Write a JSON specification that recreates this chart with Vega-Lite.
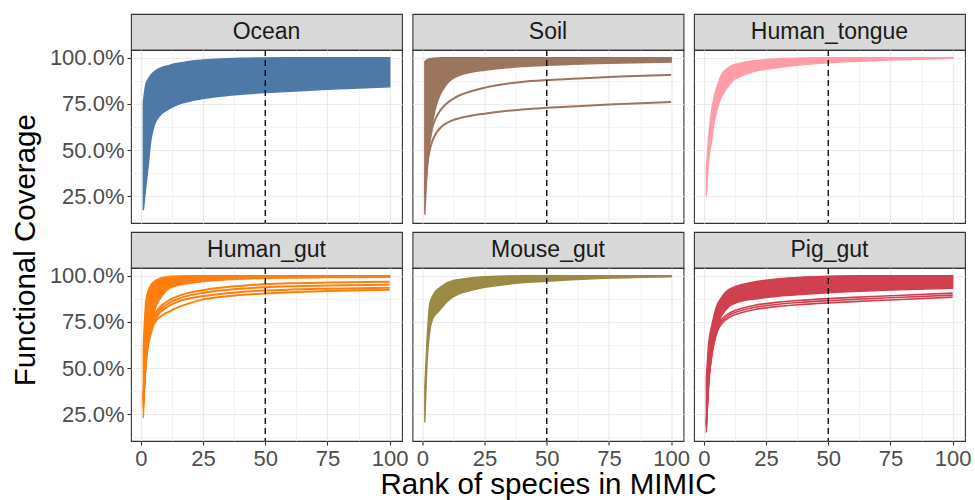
{
"$schema": "https://vega.github.io/schema/vega-lite/v6.json",
"background": "white",
"padding": {"left": 11, "top": 13, "right": 2, "bottom": 2},
"title": {"text": "Functional Coverage", "orient": "left", "anchor": "middle", "fontSize": 29.5, "font": "Liberation Sans", "fontWeight": "normal", "color": "#000000", "offset": 7, "dx": 6},
"config": {
  "font": "Liberation Sans",
  "view": {"stroke": "#333333", "strokeWidth": 1.1},
  "axis": {"domain": false, "gridColor": "#EBEBEB", "tickColor": "#333333", "tickSize": 4, "tickWidth": 1.1, "labelFont": "Liberation Sans", "labelFontSize": 22, "labelColor": "#4D4D4D", "labelPadding": 3, "titleFont": "Liberation Sans", "titleFontSize": 29.5, "titleFontWeight": "normal", "titleColor": "#000000"}
},
"datasets": {
  "bands": [
    {"env":"Ocean","x":1,"lo":0.174,"hi":0.76},{"env":"Ocean","x":2,"lo":0.30,"hi":0.855},{"env":"Ocean","x":3,"lo":0.42,"hi":0.885},{"env":"Ocean","x":4,"lo":0.55,"hi":0.905},{"env":"Ocean","x":5,"lo":0.615,"hi":0.92},{"env":"Ocean","x":6,"lo":0.655,"hi":0.93},{"env":"Ocean","x":7,"lo":0.677,"hi":0.938},{"env":"Ocean","x":8,"lo":0.693,"hi":0.945},{"env":"Ocean","x":10,"lo":0.712,"hi":0.954},{"env":"Ocean","x":12,"lo":0.728,"hi":0.961},{"env":"Ocean","x":15,"lo":0.747,"hi":0.970},{"env":"Ocean","x":20,"lo":0.766,"hi":0.982},{"env":"Ocean","x":25,"lo":0.779,"hi":0.988},{"env":"Ocean","x":30,"lo":0.789,"hi":0.992},{"env":"Ocean","x":40,"lo":0.802,"hi":0.997},{"env":"Ocean","x":50,"lo":0.811,"hi":0.999},{"env":"Ocean","x":60,"lo":0.818,"hi":1},{"env":"Ocean","x":75,"lo":0.829,"hi":1},{"env":"Ocean","x":100,"lo":0.843,"hi":1},
    {"env":"Soil","x":1,"lo":0.15,"hi":0.98},{"env":"Soil","x":2,"lo":0.40,"hi":0.99},{"env":"Soil","x":3,"lo":0.55,"hi":0.995},{"env":"Soil","x":4,"lo":0.64,"hi":0.997},{"env":"Soil","x":5,"lo":0.71,"hi":0.998},{"env":"Soil","x":6,"lo":0.76,"hi":0.999},{"env":"Soil","x":7,"lo":0.795,"hi":1},{"env":"Soil","x":8,"lo":0.82,"hi":1},{"env":"Soil","x":10,"lo":0.86,"hi":1},{"env":"Soil","x":12,"lo":0.885,"hi":1},{"env":"Soil","x":15,"lo":0.905,"hi":1},{"env":"Soil","x":20,"lo":0.922,"hi":1},{"env":"Soil","x":25,"lo":0.932,"hi":1},{"env":"Soil","x":30,"lo":0.94,"hi":1},{"env":"Soil","x":40,"lo":0.952,"hi":1},{"env":"Soil","x":50,"lo":0.959,"hi":1},{"env":"Soil","x":60,"lo":0.964,"hi":1},{"env":"Soil","x":75,"lo":0.97,"hi":1},{"env":"Soil","x":100,"lo":0.977,"hi":1},
    {"env":"Human_tongue","x":1,"lo":0.25,"hi":0.40},{"env":"Human_tongue","x":2,"lo":0.45,"hi":0.58},{"env":"Human_tongue","x":3,"lo":0.54,"hi":0.70},{"env":"Human_tongue","x":4,"lo":0.64,"hi":0.78},{"env":"Human_tongue","x":5,"lo":0.70,"hi":0.83},{"env":"Human_tongue","x":6,"lo":0.75,"hi":0.87},{"env":"Human_tongue","x":7,"lo":0.785,"hi":0.905},{"env":"Human_tongue","x":8,"lo":0.81,"hi":0.925},{"env":"Human_tongue","x":10,"lo":0.85,"hi":0.948},{"env":"Human_tongue","x":12,"lo":0.88,"hi":0.962},{"env":"Human_tongue","x":15,"lo":0.90,"hi":0.972},{"env":"Human_tongue","x":20,"lo":0.925,"hi":0.984},{"env":"Human_tongue","x":25,"lo":0.938,"hi":0.99},{"env":"Human_tongue","x":30,"lo":0.947,"hi":0.995},{"env":"Human_tongue","x":40,"lo":0.963,"hi":0.999},{"env":"Human_tongue","x":50,"lo":0.973,"hi":1},{"env":"Human_tongue","x":60,"lo":0.98,"hi":1},{"env":"Human_tongue","x":75,"lo":0.988,"hi":1},{"env":"Human_tongue","x":100,"lo":0.997,"hi":1},
    {"env":"Human_gut","x":1,"lo":0.23,"hi":0.62},{"env":"Human_gut","x":2,"lo":0.52,"hi":0.86},{"env":"Human_gut","x":3,"lo":0.64,"hi":0.92},{"env":"Human_gut","x":4,"lo":0.72,"hi":0.95},{"env":"Human_gut","x":5,"lo":0.78,"hi":0.965},{"env":"Human_gut","x":6,"lo":0.83,"hi":0.975},{"env":"Human_gut","x":7,"lo":0.86,"hi":0.982},{"env":"Human_gut","x":8,"lo":0.88,"hi":0.988},{"env":"Human_gut","x":10,"lo":0.915,"hi":0.993},{"env":"Human_gut","x":12,"lo":0.935,"hi":0.997},{"env":"Human_gut","x":15,"lo":0.948,"hi":0.999},{"env":"Human_gut","x":20,"lo":0.96,"hi":1},{"env":"Human_gut","x":25,"lo":0.968,"hi":1},{"env":"Human_gut","x":30,"lo":0.974,"hi":1},{"env":"Human_gut","x":40,"lo":0.982,"hi":1},{"env":"Human_gut","x":50,"lo":0.986,"hi":1},{"env":"Human_gut","x":60,"lo":0.988,"hi":1},{"env":"Human_gut","x":75,"lo":0.99,"hi":1},{"env":"Human_gut","x":100,"lo":0.991,"hi":1},
    {"env":"Mouse_gut","x":1,"lo":0.205,"hi":0.40},{"env":"Mouse_gut","x":2,"lo":0.55,"hi":0.68},{"env":"Mouse_gut","x":3,"lo":0.70,"hi":0.85},{"env":"Mouse_gut","x":4,"lo":0.76,"hi":0.886},{"env":"Mouse_gut","x":5,"lo":0.785,"hi":0.91},{"env":"Mouse_gut","x":6,"lo":0.80,"hi":0.925},{"env":"Mouse_gut","x":7,"lo":0.815,"hi":0.935},{"env":"Mouse_gut","x":8,"lo":0.83,"hi":0.945},{"env":"Mouse_gut","x":10,"lo":0.86,"hi":0.963},{"env":"Mouse_gut","x":12,"lo":0.882,"hi":0.972},{"env":"Mouse_gut","x":15,"lo":0.903,"hi":0.98},{"env":"Mouse_gut","x":20,"lo":0.922,"hi":0.99},{"env":"Mouse_gut","x":25,"lo":0.938,"hi":0.995},{"env":"Mouse_gut","x":30,"lo":0.947,"hi":0.998},{"env":"Mouse_gut","x":40,"lo":0.962,"hi":1},{"env":"Mouse_gut","x":50,"lo":0.97,"hi":1},{"env":"Mouse_gut","x":60,"lo":0.978,"hi":1},{"env":"Mouse_gut","x":75,"lo":0.987,"hi":1},{"env":"Mouse_gut","x":100,"lo":0.995,"hi":1},
    {"env":"Pig_gut","x":1,"lo":0.151,"hi":0.45},{"env":"Pig_gut","x":2,"lo":0.42,"hi":0.642},{"env":"Pig_gut","x":3,"lo":0.55,"hi":0.72},{"env":"Pig_gut","x":4,"lo":0.63,"hi":0.78},{"env":"Pig_gut","x":5,"lo":0.69,"hi":0.83},{"env":"Pig_gut","x":6,"lo":0.74,"hi":0.86},{"env":"Pig_gut","x":7,"lo":0.78,"hi":0.88},{"env":"Pig_gut","x":8,"lo":0.80,"hi":0.90},{"env":"Pig_gut","x":10,"lo":0.832,"hi":0.925},{"env":"Pig_gut","x":12,"lo":0.848,"hi":0.938},{"env":"Pig_gut","x":15,"lo":0.862,"hi":0.952},{"env":"Pig_gut","x":20,"lo":0.873,"hi":0.966},{"env":"Pig_gut","x":25,"lo":0.882,"hi":0.976},{"env":"Pig_gut","x":30,"lo":0.889,"hi":0.984},{"env":"Pig_gut","x":40,"lo":0.899,"hi":0.993},{"env":"Pig_gut","x":50,"lo":0.908,"hi":0.998},{"env":"Pig_gut","x":60,"lo":0.914,"hi":1},{"env":"Pig_gut","x":75,"lo":0.922,"hi":1},{"env":"Pig_gut","x":100,"lo":0.932,"hi":1}
  ],
  "lines": [
    {"env":"Soil","id":"A","x":1,"y":0.30},{"env":"Soil","id":"A","x":2,"y":0.45},{"env":"Soil","id":"A","x":3,"y":0.55},{"env":"Soil","id":"A","x":4,"y":0.62},{"env":"Soil","id":"A","x":5,"y":0.66},{"env":"Soil","id":"A","x":6,"y":0.688},{"env":"Soil","id":"A","x":7,"y":0.71},{"env":"Soil","id":"A","x":8,"y":0.728},{"env":"Soil","id":"A","x":10,"y":0.755},{"env":"Soil","id":"A","x":12,"y":0.775},{"env":"Soil","id":"A","x":15,"y":0.797},{"env":"Soil","id":"A","x":20,"y":0.82},{"env":"Soil","id":"A","x":25,"y":0.838},{"env":"Soil","id":"A","x":30,"y":0.851},{"env":"Soil","id":"A","x":40,"y":0.869},{"env":"Soil","id":"A","x":50,"y":0.879},{"env":"Soil","id":"A","x":60,"y":0.886},{"env":"Soil","id":"A","x":75,"y":0.896},{"env":"Soil","id":"A","x":100,"y":0.906},
    {"env":"Soil","id":"B","x":1,"y":0.25},{"env":"Soil","id":"B","x":2,"y":0.42},{"env":"Soil","id":"B","x":3,"y":0.50},{"env":"Soil","id":"B","x":4,"y":0.548},{"env":"Soil","id":"B","x":5,"y":0.578},{"env":"Soil","id":"B","x":6,"y":0.60},{"env":"Soil","id":"B","x":7,"y":0.617},{"env":"Soil","id":"B","x":8,"y":0.63},{"env":"Soil","id":"B","x":10,"y":0.648},{"env":"Soil","id":"B","x":12,"y":0.661},{"env":"Soil","id":"B","x":15,"y":0.673},{"env":"Soil","id":"B","x":20,"y":0.687},{"env":"Soil","id":"B","x":25,"y":0.697},{"env":"Soil","id":"B","x":30,"y":0.706},{"env":"Soil","id":"B","x":40,"y":0.72},{"env":"Soil","id":"B","x":50,"y":0.729},{"env":"Soil","id":"B","x":60,"y":0.736},{"env":"Soil","id":"B","x":75,"y":0.747},{"env":"Soil","id":"B","x":100,"y":0.761},
    {"env":"Human_gut","id":"L1","x":1,"y":0.35},{"env":"Human_gut","id":"L1","x":2,"y":0.55},{"env":"Human_gut","id":"L1","x":3,"y":0.66},{"env":"Human_gut","id":"L1","x":4,"y":0.73},{"env":"Human_gut","id":"L1","x":5,"y":0.775},{"env":"Human_gut","id":"L1","x":6,"y":0.80},{"env":"Human_gut","id":"L1","x":7,"y":0.82},{"env":"Human_gut","id":"L1","x":8,"y":0.835},{"env":"Human_gut","id":"L1","x":10,"y":0.855},{"env":"Human_gut","id":"L1","x":12,"y":0.872},{"env":"Human_gut","id":"L1","x":15,"y":0.89},{"env":"Human_gut","id":"L1","x":20,"y":0.91},{"env":"Human_gut","id":"L1","x":25,"y":0.922},{"env":"Human_gut","id":"L1","x":30,"y":0.932},{"env":"Human_gut","id":"L1","x":40,"y":0.945},{"env":"Human_gut","id":"L1","x":50,"y":0.954},{"env":"Human_gut","id":"L1","x":60,"y":0.959},{"env":"Human_gut","id":"L1","x":75,"y":0.963},{"env":"Human_gut","id":"L1","x":100,"y":0.967},
    {"env":"Human_gut","id":"L2","x":1,"y":0.33},{"env":"Human_gut","id":"L2","x":2,"y":0.54},{"env":"Human_gut","id":"L2","x":3,"y":0.65},{"env":"Human_gut","id":"L2","x":4,"y":0.715},{"env":"Human_gut","id":"L2","x":5,"y":0.76},{"env":"Human_gut","id":"L2","x":6,"y":0.785},{"env":"Human_gut","id":"L2","x":7,"y":0.805},{"env":"Human_gut","id":"L2","x":8,"y":0.82},{"env":"Human_gut","id":"L2","x":10,"y":0.84},{"env":"Human_gut","id":"L2","x":12,"y":0.857},{"env":"Human_gut","id":"L2","x":15,"y":0.875},{"env":"Human_gut","id":"L2","x":20,"y":0.895},{"env":"Human_gut","id":"L2","x":25,"y":0.907},{"env":"Human_gut","id":"L2","x":30,"y":0.917},{"env":"Human_gut","id":"L2","x":40,"y":0.93},{"env":"Human_gut","id":"L2","x":50,"y":0.938},{"env":"Human_gut","id":"L2","x":60,"y":0.943},{"env":"Human_gut","id":"L2","x":75,"y":0.947},{"env":"Human_gut","id":"L2","x":100,"y":0.952},
    {"env":"Human_gut","id":"L3","x":1,"y":0.31},{"env":"Human_gut","id":"L3","x":2,"y":0.53},{"env":"Human_gut","id":"L3","x":3,"y":0.64},{"env":"Human_gut","id":"L3","x":4,"y":0.70},{"env":"Human_gut","id":"L3","x":5,"y":0.745},{"env":"Human_gut","id":"L3","x":6,"y":0.77},{"env":"Human_gut","id":"L3","x":7,"y":0.79},{"env":"Human_gut","id":"L3","x":8,"y":0.805},{"env":"Human_gut","id":"L3","x":10,"y":0.825},{"env":"Human_gut","id":"L3","x":12,"y":0.842},{"env":"Human_gut","id":"L3","x":15,"y":0.86},{"env":"Human_gut","id":"L3","x":20,"y":0.878},{"env":"Human_gut","id":"L3","x":25,"y":0.89},{"env":"Human_gut","id":"L3","x":30,"y":0.899},{"env":"Human_gut","id":"L3","x":40,"y":0.912},{"env":"Human_gut","id":"L3","x":50,"y":0.92},{"env":"Human_gut","id":"L3","x":60,"y":0.925},{"env":"Human_gut","id":"L3","x":75,"y":0.93},{"env":"Human_gut","id":"L3","x":100,"y":0.935},
    {"env":"Human_gut","id":"L4","x":1,"y":0.29},{"env":"Human_gut","id":"L4","x":2,"y":0.52},{"env":"Human_gut","id":"L4","x":3,"y":0.63},{"env":"Human_gut","id":"L4","x":4,"y":0.685},{"env":"Human_gut","id":"L4","x":5,"y":0.73},{"env":"Human_gut","id":"L4","x":6,"y":0.755},{"env":"Human_gut","id":"L4","x":7,"y":0.77},{"env":"Human_gut","id":"L4","x":8,"y":0.78},{"env":"Human_gut","id":"L4","x":10,"y":0.797},{"env":"Human_gut","id":"L4","x":12,"y":0.81},{"env":"Human_gut","id":"L4","x":15,"y":0.83},{"env":"Human_gut","id":"L4","x":20,"y":0.853},{"env":"Human_gut","id":"L4","x":25,"y":0.872},{"env":"Human_gut","id":"L4","x":30,"y":0.882},{"env":"Human_gut","id":"L4","x":40,"y":0.896},{"env":"Human_gut","id":"L4","x":50,"y":0.904},{"env":"Human_gut","id":"L4","x":60,"y":0.91},{"env":"Human_gut","id":"L4","x":75,"y":0.917},{"env":"Human_gut","id":"L4","x":100,"y":0.924},
    {"env":"Pig_gut","id":"O1","x":1,"y":0.20},{"env":"Pig_gut","id":"O1","x":2,"y":0.45},{"env":"Pig_gut","id":"O1","x":3,"y":0.57},{"env":"Pig_gut","id":"O1","x":4,"y":0.65},{"env":"Pig_gut","id":"O1","x":5,"y":0.70},{"env":"Pig_gut","id":"O1","x":6,"y":0.737},{"env":"Pig_gut","id":"O1","x":7,"y":0.76},{"env":"Pig_gut","id":"O1","x":8,"y":0.775},{"env":"Pig_gut","id":"O1","x":10,"y":0.795},{"env":"Pig_gut","id":"O1","x":12,"y":0.809},{"env":"Pig_gut","id":"O1","x":15,"y":0.823},{"env":"Pig_gut","id":"O1","x":20,"y":0.839},{"env":"Pig_gut","id":"O1","x":25,"y":0.849},{"env":"Pig_gut","id":"O1","x":30,"y":0.857},{"env":"Pig_gut","id":"O1","x":40,"y":0.868},{"env":"Pig_gut","id":"O1","x":50,"y":0.876},{"env":"Pig_gut","id":"O1","x":60,"y":0.883},{"env":"Pig_gut","id":"O1","x":75,"y":0.892},{"env":"Pig_gut","id":"O1","x":100,"y":0.906},
    {"env":"Pig_gut","id":"O2","x":1,"y":0.19},{"env":"Pig_gut","id":"O2","x":2,"y":0.44},{"env":"Pig_gut","id":"O2","x":3,"y":0.56},{"env":"Pig_gut","id":"O2","x":4,"y":0.64},{"env":"Pig_gut","id":"O2","x":5,"y":0.69},{"env":"Pig_gut","id":"O2","x":6,"y":0.727},{"env":"Pig_gut","id":"O2","x":7,"y":0.749},{"env":"Pig_gut","id":"O2","x":8,"y":0.764},{"env":"Pig_gut","id":"O2","x":10,"y":0.784},{"env":"Pig_gut","id":"O2","x":12,"y":0.798},{"env":"Pig_gut","id":"O2","x":15,"y":0.812},{"env":"Pig_gut","id":"O2","x":20,"y":0.828},{"env":"Pig_gut","id":"O2","x":25,"y":0.838},{"env":"Pig_gut","id":"O2","x":30,"y":0.846},{"env":"Pig_gut","id":"O2","x":40,"y":0.857},{"env":"Pig_gut","id":"O2","x":50,"y":0.865},{"env":"Pig_gut","id":"O2","x":60,"y":0.872},{"env":"Pig_gut","id":"O2","x":75,"y":0.881},{"env":"Pig_gut","id":"O2","x":100,"y":0.895},
    {"env":"Pig_gut","id":"O3","x":1,"y":0.18},{"env":"Pig_gut","id":"O3","x":2,"y":0.43},{"env":"Pig_gut","id":"O3","x":3,"y":0.55},{"env":"Pig_gut","id":"O3","x":4,"y":0.63},{"env":"Pig_gut","id":"O3","x":5,"y":0.68},{"env":"Pig_gut","id":"O3","x":6,"y":0.716},{"env":"Pig_gut","id":"O3","x":7,"y":0.737},{"env":"Pig_gut","id":"O3","x":8,"y":0.752},{"env":"Pig_gut","id":"O3","x":10,"y":0.772},{"env":"Pig_gut","id":"O3","x":12,"y":0.786},{"env":"Pig_gut","id":"O3","x":15,"y":0.8},{"env":"Pig_gut","id":"O3","x":20,"y":0.816},{"env":"Pig_gut","id":"O3","x":25,"y":0.826},{"env":"Pig_gut","id":"O3","x":30,"y":0.834},{"env":"Pig_gut","id":"O3","x":40,"y":0.845},{"env":"Pig_gut","id":"O3","x":50,"y":0.853},{"env":"Pig_gut","id":"O3","x":60,"y":0.86},{"env":"Pig_gut","id":"O3","x":75,"y":0.869},{"env":"Pig_gut","id":"O3","x":100,"y":0.884}
  ]
},
"spacing": 0,
"vconcat": [
 {"columns": 3, "spacing": {"row": 0, "column": 10.5}, "bounds": "flush", "concat": [
    {"width": 271, "height": 36, "view": {"fill": "#D9D9D9", "stroke": "#333333", "strokeWidth": 1.1}, "data": {"values": [{"env": "Ocean"}]}, "mark": {"type": "text", "fontSize": 23, "color": "#1A1A1A", "baseline": "middle", "align": "center"}, "encoding": {"text": {"field": "env"}}},
    {"width": 271, "height": 36, "view": {"fill": "#D9D9D9", "stroke": "#333333", "strokeWidth": 1.1}, "data": {"values": [{"env": "Soil"}]}, "mark": {"type": "text", "fontSize": 23, "color": "#1A1A1A", "baseline": "middle", "align": "center"}, "encoding": {"text": {"field": "env"}}},
    {"width": 271, "height": 36, "view": {"fill": "#D9D9D9", "stroke": "#333333", "strokeWidth": 1.1}, "data": {"values": [{"env": "Human_tongue"}]}, "mark": {"type": "text", "fontSize": 23, "color": "#1A1A1A", "baseline": "middle", "align": "center"}, "encoding": {"text": {"field": "env"}}},
    {"width": 271, "height": 173, "layer": [
      {"data": {"name": "bands"}, "transform": [{"filter": "datum.env === 'Ocean'"}], "mark": {"type": "area", "color": "#4E79A7", "stroke": "#4E79A7", "strokeWidth": 1.4, "interpolate": "monotone"},
       "encoding": {
        "x": {"field": "x", "type": "quantitative", "scale": {"domain": [-3.95, 104.95], "nice": false, "zero": false}, "axis": {"title": null, "values": [0,12.5,25,37.5,50,62.5,75,87.5,100], "labels": false, "ticks": false, "tickSize": 0, "labelPadding": 0, "gridWidth": {"condition": {"test": "datum.value % 25 === 0", "value": 1.2}, "value": 0.6}}},
        "y": {"field": "lo", "type": "quantitative", "scale": {"domain": [0.105, 1.042], "nice": false, "zero": false}, "axis": {"title": null, "values": [0.125,0.25,0.375,0.5,0.625,0.75,0.875,1], "format": ".1%", "labelExpr": "datum.value % 0.25 === 0 ? datum.label : ''", "labelOverlap": false, "labelFlush": false, "tickOpacity": {"condition": {"test": "datum.value % 0.25 !== 0", "value": 0}, "value": 1}, "gridWidth": {"condition": {"test": "datum.value % 0.25 === 0", "value": 1.2}, "value": 0.6}}},
        "y2": {"field": "hi"}}},
      {"data": {"values": [{"cutoff": 50}]}, "mark": {"type": "rule", "color": "#000000", "strokeWidth": 1.3, "strokeDash": [6, 4]}, "encoding": {"x": {"field": "cutoff", "type": "quantitative", "scale": {"domain": [-3.95, 104.95], "nice": false, "zero": false}, "axis": {"title": null, "values": [0,12.5,25,37.5,50,62.5,75,87.5,100], "labels": false, "ticks": false, "tickSize": 0, "labelPadding": 0, "gridWidth": {"condition": {"test": "datum.value % 25 === 0", "value": 1.2}, "value": 0.6}}}}}
    ]},
    {"width": 271, "height": 173, "layer": [
      {"data": {"name": "bands"}, "transform": [{"filter": "datum.env === 'Soil'"}], "mark": {"type": "area", "color": "#9C755F", "stroke": "#9C755F", "strokeWidth": 1.4, "interpolate": "monotone"},
       "encoding": {
        "x": {"field": "x", "type": "quantitative", "scale": {"domain": [-3.95, 104.95], "nice": false, "zero": false}, "axis": {"title": null, "values": [0,12.5,25,37.5,50,62.5,75,87.5,100], "labels": false, "ticks": false, "tickSize": 0, "labelPadding": 0, "gridWidth": {"condition": {"test": "datum.value % 25 === 0", "value": 1.2}, "value": 0.6}}},
        "y": {"field": "lo", "type": "quantitative", "scale": {"domain": [0.105, 1.042], "nice": false, "zero": false}, "axis": {"title": null, "values": [0.125,0.25,0.375,0.5,0.625,0.75,0.875,1], "labels": false, "ticks": false, "gridWidth": {"condition": {"test": "datum.value % 0.25 === 0", "value": 1.2}, "value": 0.6}}},
        "y2": {"field": "hi"}}},
      {"data": {"name": "lines"}, "transform": [{"filter": "datum.env === 'Soil'"}], "mark": {"type": "line", "color": "#9C755F", "strokeWidth": 2, "interpolate": "monotone"},
       "encoding": {
        "x": {"field": "x", "type": "quantitative", "scale": {"domain": [-3.95, 104.95], "nice": false, "zero": false}, "axis": {"title": null, "values": [0,12.5,25,37.5,50,62.5,75,87.5,100], "labels": false, "ticks": false, "tickSize": 0, "labelPadding": 0, "gridWidth": {"condition": {"test": "datum.value % 25 === 0", "value": 1.2}, "value": 0.6}}},
        "y": {"field": "y", "type": "quantitative", "scale": {"domain": [0.105, 1.042], "nice": false, "zero": false}, "axis": {"title": null, "values": [0.125,0.25,0.375,0.5,0.625,0.75,0.875,1], "labels": false, "ticks": false, "gridWidth": {"condition": {"test": "datum.value % 0.25 === 0", "value": 1.2}, "value": 0.6}}},
        "detail": {"field": "id"}}},
      {"data": {"values": [{"cutoff": 50}]}, "mark": {"type": "rule", "color": "#000000", "strokeWidth": 1.3, "strokeDash": [6, 4]}, "encoding": {"x": {"field": "cutoff", "type": "quantitative", "scale": {"domain": [-3.95, 104.95], "nice": false, "zero": false}, "axis": {"title": null, "values": [0,12.5,25,37.5,50,62.5,75,87.5,100], "labels": false, "ticks": false, "tickSize": 0, "labelPadding": 0, "gridWidth": {"condition": {"test": "datum.value % 25 === 0", "value": 1.2}, "value": 0.6}}}}}
    ]},
    {"width": 271, "height": 173, "layer": [
      {"data": {"name": "bands"}, "transform": [{"filter": "datum.env === 'Human_tongue'"}], "mark": {"type": "area", "color": "#FF9DA7", "stroke": "#FF9DA7", "strokeWidth": 1.4, "interpolate": "monotone"},
       "encoding": {
        "x": {"field": "x", "type": "quantitative", "scale": {"domain": [-3.95, 104.95], "nice": false, "zero": false}, "axis": {"title": null, "values": [0,12.5,25,37.5,50,62.5,75,87.5,100], "labels": false, "ticks": false, "tickSize": 0, "labelPadding": 0, "gridWidth": {"condition": {"test": "datum.value % 25 === 0", "value": 1.2}, "value": 0.6}}},
        "y": {"field": "lo", "type": "quantitative", "scale": {"domain": [0.105, 1.042], "nice": false, "zero": false}, "axis": {"title": null, "values": [0.125,0.25,0.375,0.5,0.625,0.75,0.875,1], "labels": false, "ticks": false, "gridWidth": {"condition": {"test": "datum.value % 0.25 === 0", "value": 1.2}, "value": 0.6}}},
        "y2": {"field": "hi"}}},
      {"data": {"values": [{"cutoff": 50}]}, "mark": {"type": "rule", "color": "#000000", "strokeWidth": 1.3, "strokeDash": [6, 4]}, "encoding": {"x": {"field": "cutoff", "type": "quantitative", "scale": {"domain": [-3.95, 104.95], "nice": false, "zero": false}, "axis": {"title": null, "values": [0,12.5,25,37.5,50,62.5,75,87.5,100], "labels": false, "ticks": false, "tickSize": 0, "labelPadding": 0, "gridWidth": {"condition": {"test": "datum.value % 25 === 0", "value": 1.2}, "value": 0.6}}}}}
    ]}
 ]},
 {"columns": 3, "spacing": {"row": 0, "column": 10.5}, "bounds": "flush", "concat": [
    {"width": 271, "height": 36, "view": {"fill": "#D9D9D9", "stroke": "#333333", "strokeWidth": 1.1}, "data": {"values": [{"env": "Human_gut"}]}, "mark": {"type": "text", "fontSize": 23, "color": "#1A1A1A", "baseline": "middle", "align": "center"}, "encoding": {"text": {"field": "env"}}},
    {"width": 271, "height": 36, "view": {"fill": "#D9D9D9", "stroke": "#333333", "strokeWidth": 1.1}, "data": {"values": [{"env": "Mouse_gut"}]}, "mark": {"type": "text", "fontSize": 23, "color": "#1A1A1A", "baseline": "middle", "align": "center"}, "encoding": {"text": {"field": "env"}}},
    {"width": 271, "height": 36, "view": {"fill": "#D9D9D9", "stroke": "#333333", "strokeWidth": 1.1}, "data": {"values": [{"env": "Pig_gut"}]}, "mark": {"type": "text", "fontSize": 23, "color": "#1A1A1A", "baseline": "middle", "align": "center"}, "encoding": {"text": {"field": "env"}}},
    {"width": 271, "height": 173, "layer": [
      {"data": {"name": "bands"}, "transform": [{"filter": "datum.env === 'Human_gut'"}], "mark": {"type": "area", "color": "#FF7F0E", "stroke": "#FF7F0E", "strokeWidth": 1.4, "interpolate": "monotone"},
       "encoding": {
        "x": {"field": "x", "type": "quantitative", "scale": {"domain": [-3.95, 104.95], "nice": false, "zero": false}, "axis": {"title": null, "values": [0,12.5,25,37.5,50,62.5,75,87.5,100], "format": "d", "labelExpr": "datum.value % 25 === 0 ? datum.label : ''", "labelOverlap": false, "labelFlush": false, "tickOpacity": {"condition": {"test": "datum.value % 25 !== 0", "value": 0}, "value": 1}, "gridWidth": {"condition": {"test": "datum.value % 25 === 0", "value": 1.2}, "value": 0.6}}},
        "y": {"field": "lo", "type": "quantitative", "scale": {"domain": [0.105, 1.042], "nice": false, "zero": false}, "axis": {"title": null, "values": [0.125,0.25,0.375,0.5,0.625,0.75,0.875,1], "format": ".1%", "labelExpr": "datum.value % 0.25 === 0 ? datum.label : ''", "labelOverlap": false, "labelFlush": false, "tickOpacity": {"condition": {"test": "datum.value % 0.25 !== 0", "value": 0}, "value": 1}, "gridWidth": {"condition": {"test": "datum.value % 0.25 === 0", "value": 1.2}, "value": 0.6}}},
        "y2": {"field": "hi"}}},
      {"data": {"name": "lines"}, "transform": [{"filter": "datum.env === 'Human_gut'"}], "mark": {"type": "line", "color": "#FF7F0E", "strokeWidth": 2, "interpolate": "monotone"},
       "encoding": {
        "x": {"field": "x", "type": "quantitative", "scale": {"domain": [-3.95, 104.95], "nice": false, "zero": false}, "axis": {"title": null, "values": [0,12.5,25,37.5,50,62.5,75,87.5,100], "format": "d", "labelExpr": "datum.value % 25 === 0 ? datum.label : ''", "labelOverlap": false, "labelFlush": false, "tickOpacity": {"condition": {"test": "datum.value % 25 !== 0", "value": 0}, "value": 1}, "gridWidth": {"condition": {"test": "datum.value % 25 === 0", "value": 1.2}, "value": 0.6}}},
        "y": {"field": "y", "type": "quantitative", "scale": {"domain": [0.105, 1.042], "nice": false, "zero": false}, "axis": {"title": null, "values": [0.125,0.25,0.375,0.5,0.625,0.75,0.875,1], "format": ".1%", "labelExpr": "datum.value % 0.25 === 0 ? datum.label : ''", "labelOverlap": false, "labelFlush": false, "tickOpacity": {"condition": {"test": "datum.value % 0.25 !== 0", "value": 0}, "value": 1}, "gridWidth": {"condition": {"test": "datum.value % 0.25 === 0", "value": 1.2}, "value": 0.6}}},
        "detail": {"field": "id"}}},
      {"data": {"values": [{"cutoff": 50}]}, "mark": {"type": "rule", "color": "#000000", "strokeWidth": 1.3, "strokeDash": [6, 4]}, "encoding": {"x": {"field": "cutoff", "type": "quantitative", "scale": {"domain": [-3.95, 104.95], "nice": false, "zero": false}, "axis": {"title": null, "values": [0,12.5,25,37.5,50,62.5,75,87.5,100], "format": "d", "labelExpr": "datum.value % 25 === 0 ? datum.label : ''", "labelOverlap": false, "labelFlush": false, "tickOpacity": {"condition": {"test": "datum.value % 25 !== 0", "value": 0}, "value": 1}, "gridWidth": {"condition": {"test": "datum.value % 25 === 0", "value": 1.2}, "value": 0.6}}}}}
    ]},
    {"width": 271, "height": 173, "layer": [
      {"data": {"name": "bands"}, "transform": [{"filter": "datum.env === 'Mouse_gut'"}], "mark": {"type": "area", "color": "#9A8A44", "stroke": "#9A8A44", "strokeWidth": 1.4, "interpolate": "monotone"},
       "encoding": {
        "x": {"field": "x", "type": "quantitative", "scale": {"domain": [-3.95, 104.95], "nice": false, "zero": false}, "axis": {"title": "Rank of species in MIMIC", "titleY": 52, "titleBaseline": "alphabetic", "values": [0,12.5,25,37.5,50,62.5,75,87.5,100], "format": "d", "labelExpr": "datum.value % 25 === 0 ? datum.label : ''", "labelOverlap": false, "labelFlush": false, "tickOpacity": {"condition": {"test": "datum.value % 25 !== 0", "value": 0}, "value": 1}, "gridWidth": {"condition": {"test": "datum.value % 25 === 0", "value": 1.2}, "value": 0.6}}},
        "y": {"field": "lo", "type": "quantitative", "scale": {"domain": [0.105, 1.042], "nice": false, "zero": false}, "axis": {"title": null, "values": [0.125,0.25,0.375,0.5,0.625,0.75,0.875,1], "labels": false, "ticks": false, "gridWidth": {"condition": {"test": "datum.value % 0.25 === 0", "value": 1.2}, "value": 0.6}}},
        "y2": {"field": "hi"}}},
      {"data": {"values": [{"cutoff": 50}]}, "mark": {"type": "rule", "color": "#000000", "strokeWidth": 1.3, "strokeDash": [6, 4]}, "encoding": {"x": {"field": "cutoff", "type": "quantitative", "scale": {"domain": [-3.95, 104.95], "nice": false, "zero": false}, "axis": {"title": "Rank of species in MIMIC", "titleY": 52, "titleBaseline": "alphabetic", "values": [0,12.5,25,37.5,50,62.5,75,87.5,100], "format": "d", "labelExpr": "datum.value % 25 === 0 ? datum.label : ''", "labelOverlap": false, "labelFlush": false, "tickOpacity": {"condition": {"test": "datum.value % 25 !== 0", "value": 0}, "value": 1}, "gridWidth": {"condition": {"test": "datum.value % 25 === 0", "value": 1.2}, "value": 0.6}}}}}
    ]},
    {"width": 271, "height": 173, "layer": [
      {"data": {"name": "bands"}, "transform": [{"filter": "datum.env === 'Pig_gut'"}], "mark": {"type": "area", "color": "#D0404F", "stroke": "#D0404F", "strokeWidth": 1.4, "interpolate": "monotone"},
       "encoding": {
        "x": {"field": "x", "type": "quantitative", "scale": {"domain": [-3.95, 104.95], "nice": false, "zero": false}, "axis": {"title": null, "values": [0,12.5,25,37.5,50,62.5,75,87.5,100], "format": "d", "labelExpr": "datum.value % 25 === 0 ? datum.label : ''", "labelOverlap": false, "labelFlush": false, "tickOpacity": {"condition": {"test": "datum.value % 25 !== 0", "value": 0}, "value": 1}, "gridWidth": {"condition": {"test": "datum.value % 25 === 0", "value": 1.2}, "value": 0.6}}},
        "y": {"field": "lo", "type": "quantitative", "scale": {"domain": [0.105, 1.042], "nice": false, "zero": false}, "axis": {"title": null, "values": [0.125,0.25,0.375,0.5,0.625,0.75,0.875,1], "labels": false, "ticks": false, "gridWidth": {"condition": {"test": "datum.value % 0.25 === 0", "value": 1.2}, "value": 0.6}}},
        "y2": {"field": "hi"}}},
      {"data": {"name": "lines"}, "transform": [{"filter": "datum.env === 'Pig_gut'"}], "mark": {"type": "line", "color": "#D0404F", "strokeWidth": 1.6, "interpolate": "monotone"},
       "encoding": {
        "x": {"field": "x", "type": "quantitative", "scale": {"domain": [-3.95, 104.95], "nice": false, "zero": false}, "axis": {"title": null, "values": [0,12.5,25,37.5,50,62.5,75,87.5,100], "format": "d", "labelExpr": "datum.value % 25 === 0 ? datum.label : ''", "labelOverlap": false, "labelFlush": false, "tickOpacity": {"condition": {"test": "datum.value % 25 !== 0", "value": 0}, "value": 1}, "gridWidth": {"condition": {"test": "datum.value % 25 === 0", "value": 1.2}, "value": 0.6}}},
        "y": {"field": "y", "type": "quantitative", "scale": {"domain": [0.105, 1.042], "nice": false, "zero": false}, "axis": {"title": null, "values": [0.125,0.25,0.375,0.5,0.625,0.75,0.875,1], "labels": false, "ticks": false, "gridWidth": {"condition": {"test": "datum.value % 0.25 === 0", "value": 1.2}, "value": 0.6}}},
        "detail": {"field": "id"}}},
      {"data": {"values": [{"cutoff": 50}]}, "mark": {"type": "rule", "color": "#000000", "strokeWidth": 1.3, "strokeDash": [6, 4]}, "encoding": {"x": {"field": "cutoff", "type": "quantitative", "scale": {"domain": [-3.95, 104.95], "nice": false, "zero": false}, "axis": {"title": null, "values": [0,12.5,25,37.5,50,62.5,75,87.5,100], "format": "d", "labelExpr": "datum.value % 25 === 0 ? datum.label : ''", "labelOverlap": false, "labelFlush": false, "tickOpacity": {"condition": {"test": "datum.value % 25 !== 0", "value": 0}, "value": 1}, "gridWidth": {"condition": {"test": "datum.value % 25 === 0", "value": 1.2}, "value": 0.6}}}}}
    ]}
 ]}
]
}
